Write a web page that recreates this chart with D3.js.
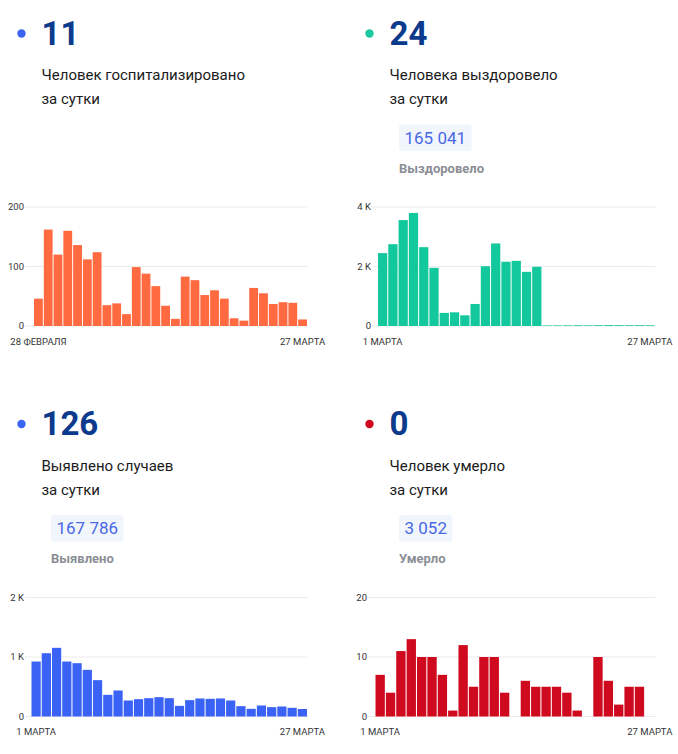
<!DOCTYPE html>
<html>
<head>
<meta charset="utf-8">
<script src="https://cdn.jsdelivr.net/npm/d3@7"></script>
<style>
  body { margin: 0; background: #fff; }
  text { font-family: Roboto, "Noto Sans", sans-serif; }
</style>
</head>
<body>
<svg id="chart" width="678" height="754"></svg>
<script>
// daily values
const hospitalized = [46, 162, 120, 160, 136, 112, 124, 35, 38, 20, 99, 88, 67, 34, 12,
  83, 77, 52, 60, 46, 13, 9, 64, 55, 37, 40, 39, 11];
const recovered = [2450, 2750, 3560, 3800, 2650, 1955, 440, 460, 360, 740, 2010, 2775,
  2160, 2190, 1820, 1990, 18, 20, 22, 25, 21, 26, 30, 28, 24, 27, 24];
const detected = [924, 1064, 1154, 924, 896, 784, 611, 364, 437, 269, 291, 308, 325, 308,
  179, 275, 303, 297, 303, 269, 174, 129, 185, 157, 168, 146, 126];
const died = [7, 4, 11, 13, 10, 10, 7, 1, 12, 5, 10, 10, 4, 0, 6, 5, 5, 5, 4, 1, 0,
  10, 6, 2, 5, 5, 0];

const yTicksHosp = [0, 100, 200], yLabelsHosp = ["0", "100", "200"];
const yTicksRec = [0, 2000, 4000], yLabelsRec = ["0", "2 K", "4 K"];
const yTicksDet = [0, 1000, 2000], yLabelsDet = ["0", "1 K", "2 K"];
const yTicksDied = [0, 10, 20], yLabelsDied = ["0", "10", "20"];

const xLabelsHosp = ["28 ФЕВРАЛЯ", "27 МАРТА"];
const xLabelsMarch = ["1 МАРТА", "27 МАРТА"];

const headNumbers = ["11", "24", "126", "0"];
const headLines = [
  ["Человек госпитализировано", "за сутки"],
  ["Человека выздоровело", "за сутки"],
  ["Выявлено случаев", "за сутки"],
  ["Человек умерло", "за сутки"]
];
const totals = [null, "165 041", "167 786", "3 052"];
const totalLabels = [null, "Выздоровело", "Выявлено", "Умерло"];

const svg = d3.select('#chart');

const panels = [
  { ox: 0, oy: 0, dot: '#3d63f2', values: hospitalized, ticks: yTicksHosp, tickLabels: yLabelsHosp,
    xLabels: xLabelsHosp, color: '#ff6a40', gridStart: 25, barStart: 34, end: 307 },
  { ox: 348, oy: 0, dot: '#1cc8a0', values: recovered, ticks: yTicksRec, tickLabels: yLabelsRec,
    xLabels: xLabelsMarch, color: '#14c89e', gridStart: 372, barStart: 378, end: 654.5 },
  { ox: 0, oy: 390.5, dot: '#3d63f2', values: detected, ticks: yTicksDet, tickLabels: yLabelsDet,
    xLabels: xLabelsMarch, color: '#3a62f4', gridStart: 25, barStart: 31.5, end: 307 },
  { ox: 348, oy: 390.5, dot: '#d0091c', values: died, ticks: yTicksDied, tickLabels: yLabelsDied,
    xLabels: xLabelsMarch, color: '#cf0a1e', gridStart: 368, barStart: 375.5, end: 654.5 }
];

panels.forEach(function (p, i) {
  const g = svg.append('g');
  const hx = p.ox + 41.5;

  // header
  g.append('circle').attr('cx', p.ox + 21.5).attr('cy', p.oy + 33.5).attr('r', 4.2).attr('fill', p.dot);
  g.append('text').attr('x', hx).attr('y', p.oy + 44.5)
    .attr('font-size', 33).attr('font-weight', 700).attr('fill', '#0c3a8c')
    .text(headNumbers[i]);
  headLines[i].forEach(function (line, k) {
    g.append('text').attr('x', hx).attr('y', p.oy + 80 + k * 24)
      .attr('font-size', 15).attr('fill', '#1b1b1b').text(line);
  });
  if (totals[i]) {
    const t = g.append('text').attr('x', hx + 15).attr('y', p.oy + 143.5)
      .attr('font-size', 17).attr('fill', '#4868e4').text(totals[i]);
    const w = t.node().getComputedTextLength();
    g.insert('rect', 'text').attr('x', hx + 9.5).attr('y', p.oy + 124.5)
      .attr('width', w + 11).attr('height', 26.5).attr('rx', 3).attr('fill', '#f1f5fc');
    g.append('text').attr('x', hx + 9.5).attr('y', p.oy + 172.5)
      .attr('font-size', 13).attr('font-weight', 700).attr('fill', '#8b8e95')
      .text(totalLabels[i]);
  }

  // chart
  const y = d3.scaleLinear()
    .domain([0, p.ticks[p.ticks.length - 1]])
    .range([p.oy + 326, p.oy + 207]);
  const x = d3.scaleBand()
    .domain(d3.range(p.values.length))
    .range([p.barStart, p.end])
    .paddingInner(0.1);

  g.append('g').selectAll('line')
    .data(p.ticks)
    .enter().append('line')
    .attr('x1', p.gridStart).attr('x2', p.end + 1)
    .attr('y1', d => y(d)).attr('y2', d => y(d))
    .style('stroke', '#ebebeb').attr('stroke-width', 1);

  g.append('g').selectAll('text')
    .data(p.ticks)
    .enter().append('text')
    .attr('x', p.gridStart - 1)
    .attr('y', d => y(d))
    .attr('dy', '0.35em')
    .attr('text-anchor', 'end')
    .attr('font-size', 9.5).attr('fill', '#333')
    .text((d, k) => p.tickLabels[k]);

  g.append('g').selectAll('rect')
    .data(p.values)
    .enter().append('rect')
    .attr('x', (d, k) => x(k))
    .attr('width', x.bandwidth())
    .attr('y', d => y(d))
    .attr('height', d => y(0) - y(d))
    .attr('fill', p.color);

  const last = p.values.length - 1;
  g.append('text').attr('x', x(0) + x.bandwidth() / 2).attr('y', p.oy + 344.5)
    .attr('text-anchor', 'middle').attr('font-size', 9.5).attr('fill', '#333')
    .text(p.xLabels[0]);
  g.append('text').attr('x', x(last) + x.bandwidth() / 2).attr('y', p.oy + 344.5)
    .attr('text-anchor', 'middle').attr('font-size', 9.5).attr('fill', '#333')
    .text(p.xLabels[1]);
});
</script>
</body>
</html>
